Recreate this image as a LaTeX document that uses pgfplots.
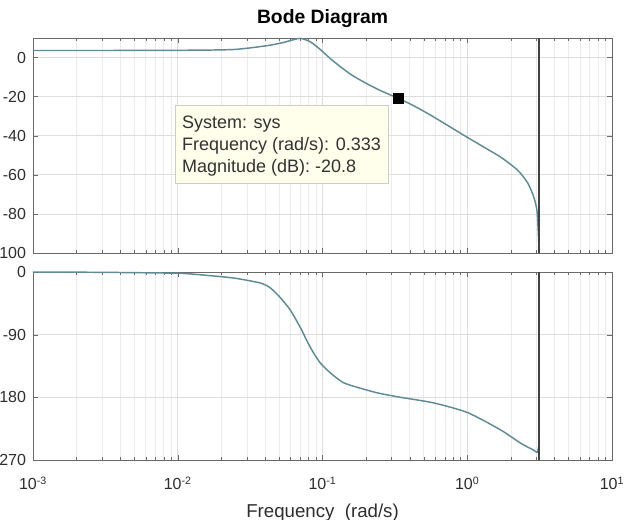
\documentclass[border=0pt]{standalone}
\usepackage{pgfplots}
\usepackage{pgfplotstable}
\pgfplotsset{compat=1.18}
\usepackage{fontspec}
\setmainfont{Liberation Sans}

\definecolor{curvec}{RGB}{96,138,148}
\definecolor{framec}{RGB}{105,105,105}
\definecolor{gridc}{RGB}{222,222,222}
\definecolor{gridminc}{RGB}{236,236,236}
\definecolor{labc}{RGB}{45,45,45}
\definecolor{nyqc}{RGB}{65,65,65}
\definecolor{tipf}{RGB}{255,255,236}
\definecolor{tipb}{RGB}{205,205,195}
\definecolor{tipt}{RGB}{50,50,50}

% magnitude
\pgfplotstableread{
w mag
0.001 3.6
0.003 3.6
0.01 3.7
0.0242 4.1
0.0416 6.1
0.0537 7.7
0.0601 8.7
0.0704 9.8
0.0826 8.0
0.0969 4.0
0.1135 -0.6
0.133 -4.7
0.156 -8.5
0.183 -11.6
0.215 -14.4
0.253 -17.0
0.296 -19.2
0.333 -20.8
0.43 -24.8
0.559 -29.5
0.902 -38.8
1.24 -44.9
1.706 -51.0
2.235 -57.7
2.624 -64.3
2.884 -71.4
3.03 -78.1
3.09 -88
3.1416 -100
}\magdata

% phase
\pgfplotstableread{
w ph
0.001 0
0.0031 -0.5
0.01 -1.8
0.0143 -4
0.0242 -8.6
0.0372 -15.8
0.0437 -23
0.0512 -37
0.0601 -55
0.0704 -80
0.0788 -100.5
0.0866 -116
0.0969 -131
0.1135 -145
0.1396 -159
0.1832 -167
0.2443 -174
0.3467 -180
0.586 -188
1.008 -202
1.706 -227
2.345 -246
2.884 -256
3.05 -259
3.1416 -246
}\phdata

\begin{document}
\begin{tikzpicture}
\begin{axis}[
    xmode=log, xmin=1e-3, xmax=10,
    scale only axis, width=434.25pt, height=161.25pt,
    at={(24.75pt,200.25pt)}, anchor=south west,
    axis line style={framec, line width=0.6pt},
    tick style={framec}, tick align=inside,
    major tick length=4pt, minor tick length=2.2pt,
    xmajorgrids, xminorgrids, ymajorgrids,
    major grid style={gridc, line width=0.5pt},
    minor grid style={gridminc, line width=0.4pt},
    ticklabel style={font=\fontsize{12}{14}\selectfont, text=labc},
    yticklabel style={xshift=-1.75pt},
    xtick={0.001,0.01,0.1,1,10},
    xticklabels={},
    ymin=-100, ymax=10,
    ytick={-100,-80,-60,-40,-20,0},
    yticklabels={-100,-80,-60,-40,-20,0},
    ]
    \addplot[curvec, line width=1.1pt, smooth, tension=0.4] table[x=w, y=mag] {\magdata};
    \addplot[nyqc, line width=1.5pt] coordinates {(3.1416,-100) (3.1416,10)};
    \addplot[only marks, mark=square*, mark size=3.8pt, black] coordinates {(0.333,-20.8)};
    \draw[tipb, fill=tipf, line width=0.5pt] (rel axis cs:0.245,0.326) rectangle (rel axis cs:0.613,0.688);
    \node[anchor=north west, align=left, inner sep=0pt, text=tipt,
          font=\fontsize{13.5}{16.5}\selectfont] at (rel axis cs:0.257,0.64)
          {System: sys\\Frequency (rad/s): 0.333\\Magnitude (dB): -20.8};
\end{axis}

\begin{axis}[
    xmode=log, xmin=1e-3, xmax=10,
    scale only axis, width=434.25pt, height=141pt,
    at={(24.75pt,45pt)}, anchor=south west,
    axis line style={framec, line width=0.6pt},
    tick style={framec}, tick align=inside,
    major tick length=4pt, minor tick length=2.2pt,
    xmajorgrids, xminorgrids, ymajorgrids,
    major grid style={gridc, line width=0.5pt},
    minor grid style={gridminc, line width=0.4pt},
    ticklabel style={font=\fontsize{12}{14}\selectfont, text=labc},
    yticklabel style={xshift=-1.75pt},
    xticklabel style={yshift=-9pt},
    xtick={0.001,0.01,0.1,1,10},
    xticklabels={10\textsuperscript{-3},10\textsuperscript{-2},10\textsuperscript{-1},10\textsuperscript{0},10\textsuperscript{1}},
    ymin=-270, ymax=0,
    ytick={-270,-180,-90,0},
    yticklabels={-270,-180,-90,0},
    ]
    \addplot[curvec, line width=1.1pt, smooth, tension=0.4] table[x=w, y=ph] {\phdata};
    \addplot[nyqc, line width=1.5pt] coordinates {(3.1416,-270) (3.1416,0)};
\end{axis}

\node[anchor=base, font=\fontsize{14.5}{17}\selectfont\bfseries] at (241.9pt,372pt) {Bode Diagram};
\node[anchor=base, font=\fontsize{14}{17}\selectfont, text=labc] at (241.9pt,2pt) {Frequency\ \ (rad/s)};

\pgfresetboundingbox
\useasboundingbox (0,0) rectangle (468pt,390pt);
\end{tikzpicture}
\end{document}
